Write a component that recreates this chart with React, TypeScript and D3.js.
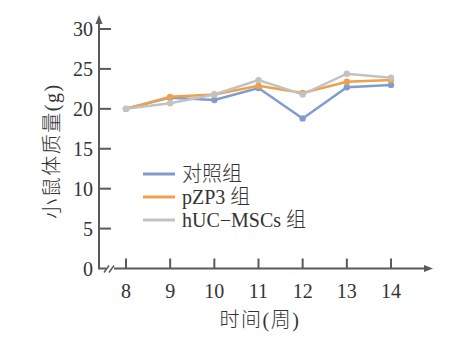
import React from "react";
import * as d3 from "d3";

const weeks = [8, 9, 10, 11, 12, 13, 14];
const controlValues = [20.0, 21.4, 21.1, 22.6, 18.8, 22.7, 23.0];
const pzp3Values = [20.0, 21.5, 21.8, 22.9, 22.0, 23.4, 23.6];
const hucValues = [20.0, 20.7, 21.8, 23.6, 21.8, 24.4, 23.9];
const yTicks = [0, 5, 10, 15, 20, 25, 30];
const seriesNames = ["对照组", "pZP3 组", "hUC−MSCs 组"];
const seriesColors = ["#7f9ccc", "#f0a04a", "#c2c2c2"];
const seriesData = [controlValues, pzp3Values, hucValues];

const FONT = "'Liberation Serif', 'Times New Roman', 'Noto Sans CJK SC', serif";
const AXIS = "#5a5a5a";
const TEXT = "#333";

export default function App() {
  const x = d3.scaleLinear().domain([8, 14]).range([126, 391]);
  const y = d3.scaleLinear().domain([0, 30]).range([268.5, 29]);
  const axX = 99;
  const axY = 268.5;
  const line = d3
    .line<number>()
    .x((_, i) => x(weeks[i]))
    .y((d) => y(d));

  return (
    <svg
      width={464}
      height={340}
      style={{ position: "absolute", left: 0, top: 0, background: "#fff" }}
      fontFamily={FONT}
    >
      {/* y axis */}
      <line x1={axX} y1={axY} x2={axX} y2={22} stroke={AXIS} strokeWidth={2} />
      <path d={`M${axX - 3.5},${24} L${axX},${15} L${axX + 3.5},${24} Z`} fill={AXIS} />
      {yTicks.map((t) => (
        <g key={t}>
          {t !== 0 && (
            <line x1={axX} x2={axX + 12} y1={y(t)} y2={y(t)} stroke={AXIS} strokeWidth={2} />
          )}
          <text
            x={axX - 6}
            y={y(t)}
            textAnchor="end"
            dominantBaseline="central"
            fontSize={20}
            fill={TEXT}
          >
            {t}
          </text>
        </g>
      ))}
      {/* x axis */}
      <line x1={axX - 1} y1={axY} x2={106} y2={axY} stroke={AXIS} strokeWidth={2} />
      <line x1={114} y1={axY} x2={426} y2={axY} stroke={AXIS} strokeWidth={2} />
      <path d={`M${424},${axY - 3.5} L${433},${axY} L${424},${axY + 3.5} Z`} fill={AXIS} />
      <line x1={104} y1={axY + 4} x2={109} y2={axY - 3} stroke={AXIS} strokeWidth={1.5} />
      <line x1={109} y1={axY + 4} x2={114} y2={axY - 3} stroke={AXIS} strokeWidth={1.5} />
      {weeks.map((w) => (
        <g key={w}>
          <line x1={x(w)} x2={x(w)} y1={axY} y2={axY - 10} stroke={AXIS} strokeWidth={2} />
          <text
            x={x(w)}
            y={axY + 22}
            textAnchor="middle"
            dominantBaseline="central"
            fontSize={20}
            fill={TEXT}
          >
            {w}
          </text>
        </g>
      ))}
      {/* axis titles */}
      <text
        x={260}
        y={320}
        textAnchor="middle"
        dominantBaseline="central"
        fontSize={20}
        fontWeight={300}
        letterSpacing={1.5}
        fill={TEXT}
      >
        时间(周)
      </text>
      <text
        transform={`translate(52,151) rotate(-90)`}
        textAnchor="middle"
        dominantBaseline="central"
        fontSize={20}
        fontWeight={300}
        letterSpacing={1.5}
        fill={TEXT}
      >
        小鼠体质量(g)
      </text>
      {/* series */}
      {seriesData.map((vals, si) => (
        <g key={si}>
          <path d={line(vals) || ""} fill="none" stroke={seriesColors[si]} strokeWidth={2.5} />
          {vals.map((v, i) => (
            <circle key={i} cx={x(weeks[i])} cy={y(v)} r={3.2} fill={seriesColors[si]} />
          ))}
        </g>
      ))}
      {/* legend */}
      {seriesNames.map((n, i) => (
        <g key={n} transform={`translate(0, ${174 + i * 23})`}>
          <line x1={143} x2={175} y1={0} y2={0} stroke={seriesColors[i]} strokeWidth={3} />
          <text x={182} y={0} dominantBaseline="central" fontSize={20} fontWeight={300} fill={TEXT}>
            {n}
          </text>
        </g>
      ))}
    </svg>
  );
}
